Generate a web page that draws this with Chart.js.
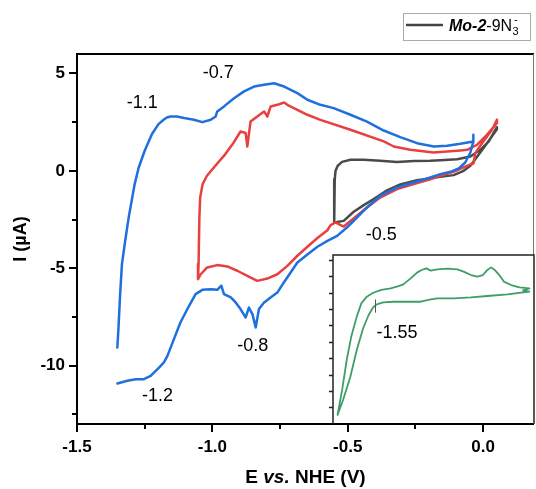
<!DOCTYPE html>
<html>
<head>
<meta charset="utf-8">
<script src="https://cdn.jsdelivr.net/npm/chart.js@4.4.1/dist/chart.umd.min.js"></script>
<style>
  html, body { margin: 0; padding: 0; background: #fff; }
  #wrap { position: relative; width: 536px; height: 489px; }
  #cv { position: absolute; left: 0; top: 0; }
  #inset { position: absolute; left: 323px; top: 245px; }
</style>
</head>
<body>
<div id="wrap">
  <canvas id="cv" width="536" height="489"></canvas>
  <canvas id="inset" width="213" height="182"></canvas>
</div>
<script>
// blue scan (widest window): cathodic branch then anodic branch
const blueE = [-1.351,-1.314,-1.283,-1.253,-1.228,-1.197,-1.179,-1.166,-1.142,-1.118,
  -1.086,-1.062,-1.037,-1.006,-0.982,-0.967,-0.957,-0.932,-0.914,-0.896,
  -0.877,-0.865,-0.852,-0.840,-0.828,-0.809,-0.785,-0.760,-0.736,-0.711,
  -0.686,-0.649,-0.612,-0.575,-0.539,-0.503,-0.466,-0.429,-0.380,-0.318,
  -0.256,-0.195,-0.158,-0.121,-0.090,-0.066,-0.047,-0.037,-0.035,
  -0.037,-0.084,-0.133,-0.182,-0.244,-0.306,-0.367,-0.429,-0.490,-0.552,
  -0.601,-0.649,-0.686,-0.735,-0.772,-0.809,-0.846,-0.883,-0.920,-0.957,
  -0.982,-0.988,-1.006,-1.037,-1.068,-1.105,-1.131,-1.155,-1.168,-1.180,
  -1.199,-1.223,-1.250,-1.272,-1.287,-1.309,-1.322,-1.334,-1.341,-1.347,-1.351];
const blueI = [-10.92,-10.78,-10.70,-10.70,-10.53,-10.10,-9.84,-9.50,-8.64,-7.79,
  -6.93,-6.33,-6.11,-6.08,-6.11,-5.90,-6.33,-6.50,-6.76,-7.10,
  -7.53,-7.02,-7.36,-8.04,-7.10,-6.76,-6.50,-6.25,-5.73,-5.22,
  -4.71,-4.30,-3.90,-3.60,-3.34,-2.91,-2.40,-1.88,-1.28,-0.85,
  -0.60,-0.34,-0.17,-0.05,0.12,0.43,0.94,1.46,1.85,
  1.51,1.39,1.29,1.25,1.42,1.73,2.07,2.53,2.88,3.22,
  3.39,3.65,3.99,4.33,4.50,4.42,4.33,4.08,3.73,3.31,
  3.05,2.79,2.62,2.50,2.62,2.71,2.79,2.79,2.74,2.62,
  2.40,1.89,1.03,0.17,-0.68,-2.39,-3.59,-4.79,-6.42,-8.13,-9.07];

// red scan
const redE = [-1.053,-1.043,-1.019,-0.982,-0.945,-0.908,-0.871,-0.834,-0.797,-0.760,
  -0.723,-0.686,-0.649,-0.612,-0.575,-0.564,-0.546,-0.515,-0.466,-0.429,
  -0.380,-0.318,-0.256,-0.195,-0.158,-0.109,-0.066,-0.035,-0.029,-0.004,0.033,0.051,
  0.051,0.014,-0.022,-0.059,-0.084,-0.183,-0.269,-0.330,-0.367,-0.490,
  -0.601,-0.649,-0.686,-0.723,-0.735,-0.760,-0.785,-0.797,-0.809,-0.834,
  -0.859,-0.871,-0.877,-0.896,-0.921,-0.952,-0.989,-1.020,-1.036,-1.045,
  -1.048,-1.051,-1.053];
const redI = [-5.56,-5.31,-4.96,-4.84,-4.91,-5.13,-5.39,-5.65,-5.53,-5.31,
  -4.88,-4.36,-3.90,-3.45,-3.05,-2.80,-2.65,-2.86,-2.31,-1.88,
  -1.37,-0.94,-0.68,-0.43,-0.26,-0.05,0.22,0.39,0.91,1.42,2.11,2.62,
  2.45,1.85,1.34,1.08,1.05,0.94,1.08,1.25,1.51,2.11,
  2.62,2.88,3.13,3.39,3.51,3.39,3.30,2.79,3.05,2.79,
  2.53,1.25,1.94,2.02,1.46,0.86,0.26,-0.25,-0.68,-1.37,
  -2.39,-4.79,-5.56];

// black scan (Mo-2-9N3-)
const blackE = [-0.550,-0.515,-0.478,-0.441,-0.404,-0.355,-0.306,-0.244,-0.158,-0.109,
  -0.072,-0.047,-0.029,-0.010,0.021,0.051,
  0.051,0.021,-0.010,-0.047,-0.096,-0.158,-0.195,-0.256,-0.318,-0.380,
  -0.441,-0.490,-0.521,-0.537,-0.545,-0.548,-0.550,-0.550];
const blackI = [-2.65,-2.57,-2.10,-1.76,-1.45,-1.00,-0.70,-0.48,-0.31,-0.22,
  0.00,0.26,0.60,0.95,1.55,2.14,
  2.24,1.51,1.08,0.74,0.60,0.55,0.52,0.50,0.46,0.52,
  0.57,0.57,0.46,0.26,0.00,-0.43,-1.80,-2.65];

// inset (green), axis units guessed, no labels in the original
const insetE = [0.15,0.06,-0.09,-0.31,-0.49,-0.68,-0.86,-0.93,-1.04,-1.19,
  -1.34,-1.45,-1.52,-1.56,-1.61,-1.67,-1.74,-1.81,-1.89,-1.95,
  -1.90,-1.85,-1.80,-1.74,-1.69,-1.63,-1.56,-1.47,-1.37,-1.30,
  -1.23,-1.15,-1.08,-1.03,-0.98,-0.93,-0.86,-0.75,-0.64,-0.57,
  -0.49,-0.42,-0.36,-0.31,-0.27,-0.23,-0.18,-0.13,-0.05,0.04,
  0.15,0.08,0.15];
const insetI = [-1.93,-2.00,-2.10,-2.20,-2.28,-2.34,-2.34,-2.40,-2.55,-2.55,
  -2.55,-2.59,-2.71,-2.89,-3.36,-4.17,-5.50,-7.13,-8.55,-9.47,
  -7.94,-6.11,-4.68,-3.46,-2.65,-2.24,-2.00,-1.83,-1.73,-1.63,
  -1.49,-1.12,-0.77,-0.61,-0.51,-0.65,-0.57,-0.53,-0.57,-0.71,
  -0.92,-1.02,-0.92,-0.61,-0.45,-0.61,-0.92,-1.32,-1.53,-1.67,
  -1.73,-1.85,-1.93];

const xTicks = [-1.5, -1.0, -0.5, 0.0];
const xMinor = [-1.25, -0.75, -0.25];
const yTicks = [-10, -5, 0, 5];
const yMinor = [-12.5, -7.5, -2.5, 2.5];
const insetTicks = [0, -1, -2, -3, -4, -5, -6, -7, -8, -9];

// peak labels
const annoText = ['-1.1', '-0.7', '-0.8', '-1.2', '-0.5'];
const annoE = [-1.259, -0.978, -0.851, -1.203, -0.376];
const annoI = [3.48, 5.02, -9.00, -11.57, -3.28];

const FONT = 'Arial, "Liberation Sans", sans-serif';
const pts = (xs, ys) => xs.map((v, i) => ({x: v, y: ys[i]}));
const lineDs = (xs, ys, color, w) => ({
  data: pts(xs, ys), borderColor: color, borderWidth: w, showLine: true,
  pointRadius: 0, tension: 0, borderJoinStyle: 'round', borderCapStyle: 'round'
});

const mainDecor = {
  id: 'mainDecor',
  afterDraw(chart) {
    const {ctx, chartArea: a, scales: {x, y}} = chart;
    ctx.save();
    // frame
    ctx.strokeStyle = '#000';
    ctx.lineWidth = 2;
    ctx.beginPath();
    ctx.moveTo(a.right, a.top); ctx.lineTo(a.left, a.top);
    ctx.lineTo(a.left, a.bottom); ctx.lineTo(a.right, a.bottom);
    ctx.stroke();
    ctx.strokeStyle = '#777';
    ctx.lineWidth = 1;
    ctx.beginPath(); ctx.moveTo(a.right - 0.5, a.top); ctx.lineTo(a.right - 0.5, a.bottom); ctx.stroke();

    // tick marks, outward
    ctx.strokeStyle = '#000';
    ctx.lineWidth = 2;
    ctx.beginPath();
    xTicks.forEach(v => { const p = Math.round(x.getPixelForValue(v)); ctx.moveTo(p, a.bottom); ctx.lineTo(p, a.bottom + 8); });
    xMinor.forEach(v => { const p = Math.round(x.getPixelForValue(v)); ctx.moveTo(p, a.bottom); ctx.lineTo(p, a.bottom + 5); });
    yTicks.forEach(v => { const p = Math.round(y.getPixelForValue(v)); ctx.moveTo(a.left, p); ctx.lineTo(a.left - 8, p); });
    yMinor.forEach(v => { const p = Math.round(y.getPixelForValue(v)); ctx.moveTo(a.left, p); ctx.lineTo(a.left - 5, p); });
    ctx.stroke();

    // peak labels
    ctx.fillStyle = '#000';
    ctx.font = '18px ' + FONT;
    ctx.textAlign = 'center';
    ctx.textBaseline = 'middle';
    annoText.forEach((t, i) => ctx.fillText(t, x.getPixelForValue(annoE[i]), y.getPixelForValue(annoI[i])));

    // axis titles
    ctx.font = 'bold 18px ' + FONT;
    ctx.save();
    ctx.translate(21, (a.top + a.bottom) / 2);
    ctx.rotate(-Math.PI / 2);
    ctx.fillText('I (µA)', 0, 0);
    ctx.restore();

    const parts = [['E ', 'bold'], ['vs.', 'italic bold'], [' NHE (V)', 'bold']];
    let total = 0;
    parts.forEach(p => { ctx.font = p[1] + ' 19px ' + FONT; total += ctx.measureText(p[0]).width; });
    let cx = (a.left + a.right) / 2 - total / 2;
    ctx.textAlign = 'left';
    parts.forEach(p => { ctx.font = p[1] + ' 19px ' + FONT; ctx.fillText(p[0], cx, 478); cx += ctx.measureText(p[0]).width; });

    // legend
    ctx.strokeStyle = '#aaa';
    ctx.lineWidth = 1;
    ctx.strokeRect(403.5, 13.5, 127, 27);
    ctx.strokeStyle = '#444';
    ctx.lineWidth = 2.5;
    ctx.beginPath(); ctx.moveTo(406, 25); ctx.lineTo(443, 25); ctx.stroke();
    ctx.textBaseline = 'alphabetic';
    let lx = 449;
    const base = 31;
    ctx.font = 'italic bold 16px ' + FONT;
    ctx.fillText('Mo-2', lx, base); lx += ctx.measureText('Mo-2').width;
    ctx.font = '16px ' + FONT;
    ctx.fillText('-9N', lx, base); lx += ctx.measureText('-9N').width;
    ctx.font = '11px ' + FONT;
    ctx.fillText('3', lx + 0.5, base + 4);
    ctx.fillText('-', lx + 2, base - 8);
    ctx.restore();
  }
};

new Chart(document.getElementById('cv'), {
  type: 'scatter',
  data: {
    datasets: [
      lineDs(blueE, blueI, '#1f6fde', 2.5),
      lineDs(redE, redI, '#e8403f', 2.5),
      lineDs(blackE, blackI, '#4a4a4a', 2.5)
    ]
  },
  options: {
    responsive: false,
    animation: false,
    events: [],
    layout: {padding: {top: 54, right: 2, left: 0, bottom: 0}},
    plugins: {legend: {display: false}, tooltip: {enabled: false}},
    scales: {
      x: {
        type: 'linear', min: -1.5, max: 0.188,
        grid: {display: false, drawTicks: false},
        border: {display: false},
        afterBuildTicks: s => { s.ticks = xTicks.map(v => ({value: v})); },
        afterFit: s => { s.height = 65; },
        ticks: {padding: 13, color: '#000', font: {family: FONT, size: 17, weight: 'bold'}, callback: v => v.toFixed(1), maxRotation: 0}
      },
      y: {
        type: 'linear', min: -13, max: 6,
        grid: {display: false, drawTicks: false},
        border: {display: false},
        afterBuildTicks: s => { s.ticks = yTicks.map(v => ({value: v})); },
        afterFit: s => { s.width = 77; },
        ticks: {padding: 12, color: '#000', font: {family: FONT, size: 17, weight: 'bold'}, callback: v => String(v)}
      }
    }
  },
  plugins: [mainDecor]
});

const insetDecor = {
  id: 'insetDecor',
  beforeDraw(chart) {
    const {ctx, chartArea: a} = chart;
    ctx.save();
    ctx.fillStyle = '#fff';
    ctx.fillRect(a.left, a.top, a.right - a.left, a.bottom - a.top - 1);
    ctx.restore();
  },
  afterDraw(chart) {
    const {ctx, chartArea: a, scales: {x, y}} = chart;
    ctx.save();
    ctx.strokeStyle = '#222';
    ctx.lineWidth = 1.5;
    ctx.beginPath();
    ctx.moveTo(a.left, a.bottom); ctx.lineTo(a.left, a.top);
    ctx.lineTo(a.right, a.top); ctx.lineTo(a.right, a.bottom);
    ctx.stroke();
    ctx.beginPath();
    insetTicks.forEach(v => { const p = Math.round(y.getPixelForValue(v)) + 0.5; ctx.moveTo(a.left, p); ctx.lineTo(a.left - 4, p); });
    ctx.stroke();
    // marker on the reduction wave
    ctx.strokeStyle = '#555';
    ctx.lineWidth = 1;
    const mx = Math.round(x.getPixelForValue(-1.545)) + 0.5;
    ctx.beginPath(); ctx.moveTo(mx, y.getPixelForValue(-2.41)); ctx.lineTo(mx, y.getPixelForValue(-3.22)); ctx.stroke();
    ctx.fillStyle = '#000';
    ctx.font = '18px ' + FONT;
    ctx.textAlign = 'center';
    ctx.textBaseline = 'middle';
    ctx.fillText('-1.55', x.getPixelForValue(-1.299), y.getPixelForValue(-4.46));
    ctx.restore();
  }
};

new Chart(document.getElementById('inset'), {
  type: 'scatter',
  data: {datasets: [lineDs(insetE, insetI, '#3f9e68', 1.8)]},
  options: {
    responsive: false,
    animation: false,
    events: [],
    layout: {padding: {left: 10, top: 10, right: 2, bottom: 3}},
    plugins: {legend: {display: false}, tooltip: {enabled: false}},
    scales: {
      x: {type: 'linear', min: -2.0, max: 0.2, display: false},
      y: {type: 'linear', min: -10.02, max: 0.305, display: false}
    }
  },
  plugins: [insetDecor]
});
</script>
</body>
</html>
